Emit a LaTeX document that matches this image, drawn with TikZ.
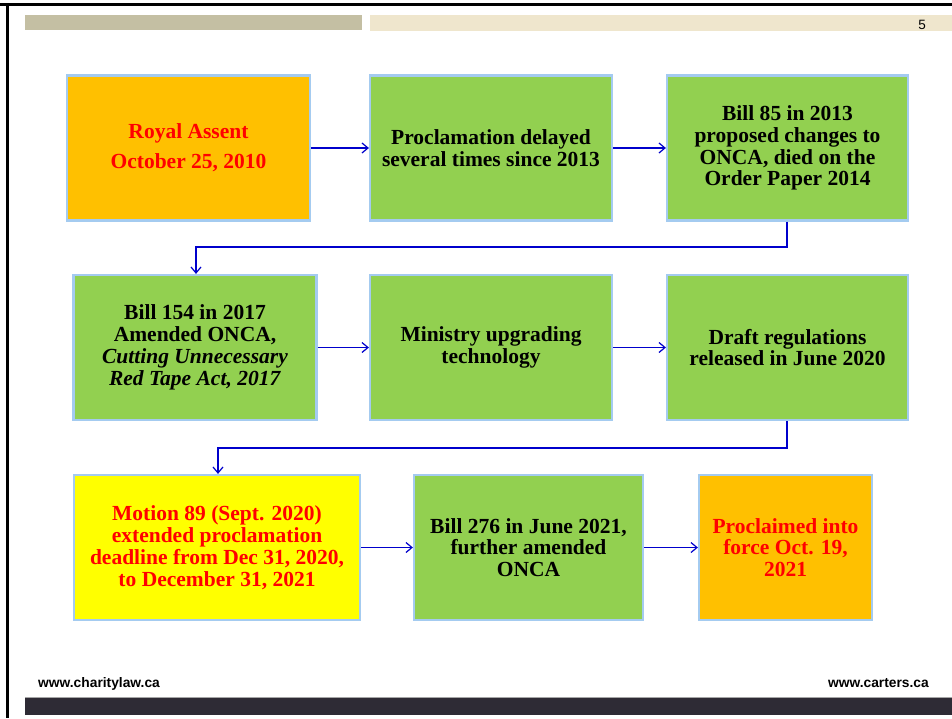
\documentclass[tikz,border=0pt]{standalone}
\usepackage{fontspec}
\setmainfont{Liberation Serif}
\newfontfamily\arialfont{Liberation Sans}
\usetikzlibrary{arrows.meta}
\definecolor{boxorange}{HTML}{FFC000}
\definecolor{boxgreen}{HTML}{92D050}
\definecolor{boxyellow}{HTML}{FFFF00}
\definecolor{boxborder}{HTML}{A4CBF0}
\definecolor{connblue}{HTML}{0000CC}
\definecolor{bargray}{HTML}{C4BFA3}
\definecolor{barbeige}{HTML}{EFE6CD}
\definecolor{footdark}{HTML}{2E2B35}
\begin{document}
\begin{tikzpicture}[x=1pt,y=-1pt,
  stepbox/.style={draw=boxborder, line width=2.2pt, minimum height=145pt, inner sep=0pt, align=center,
    font=\fontsize{21.5}{21.8}\selectfont\bfseries},
  conn/.style={draw=connblue, line width=1.2pt, -{Straight Barb[length=6pt,width=10pt,line width=1.2pt]}},
  foot/.style={font=\arialfont\bfseries\fontsize{13.8}{15}\selectfont, inner sep=0pt}
]
\useasboundingbox (0,0) rectangle (952,718);
\fill[white] (0,0) rectangle (952,718);
% frame
\fill[black] (0,3) rectangle (952,6);
\fill[black] (6,3) rectangle (9,718);
% top bars
\fill[bargray] (25,14.5) rectangle (362,30);
\fill[barbeige] (370,14.5) rectangle (952,31);
\node[font=\arialfont\fontsize{13.5}{15}\selectfont, inner sep=0pt] (pagenum) at (922,24.5) {5};
% footer
\fill[footdark] (25,698) rectangle (952,715);
\draw[gray!70, line width=0.8pt] (25,697.5) -- (952,697.5);
\node[foot, anchor=base west] (footl) at (38,687.5) {www.charitylaw.ca};
\node[foot, anchor=base east] (footr) at (929,687.5) {www.carters.ca};
% row 1
\node[stepbox, fill=boxorange, minimum width=243pt, text=red] (A) at (188.5,148) {Royal Assent\\[8pt]October 25, 2010};
\node[stepbox, fill=boxgreen, minimum width=242pt] (B) at (491,148) {Proclamation delayed\\several times since 2013};
\node[stepbox, fill=boxgreen, minimum width=241pt] (C) at (787.5,148) {Bill 85 in 2013\\proposed changes to\\ONCA, died on the\\Order Paper 2014};
% row 2
\node[stepbox, fill=boxgreen, minimum width=243pt] (D) at (195,347.5) {Bill 154 in 2017\\Amended ONCA,\\\textit{Cutting Unnecessary}\\\textit{Red Tape Act, 2017}};
\node[stepbox, fill=boxgreen, minimum width=242pt] (E) at (491,347.5) {Ministry upgrading\\technology};
\node[stepbox, fill=boxgreen, minimum width=241pt] (F) at (787.5,347.5) {Draft regulations\\released in June 2020};
% row 3
\node[stepbox, fill=boxyellow, minimum width=286pt, text=red] (G) at (217,547.5) {Motion 89 (Sept. 2020)\\extended proclamation\\deadline from Dec 31, 2020,\\to December 31, 2021};
\node[stepbox, fill=boxgreen, minimum width=229pt] (H) at (528.5,547.5) {Bill 276 in June 2021,\\further amended\\ONCA};
\node[stepbox, fill=boxorange, minimum width=173pt, text=red] (I) at (785.5,547.5) {Proclaimed into\\force Oct. 19,\\2021};
% connectors
\draw[conn] (A) -- (B);
\draw[conn] (B) -- (C);
\coordinate (c1) at (787,247);
\coordinate (c2) at (196,247);
\draw[conn] (C.south -| c1) -- (c1) -- (c2) -- (c2 |- D.north);
\draw[conn] (D) -- (E);
\draw[conn] (E) -- (F);
\coordinate (c3) at (787,448);
\coordinate (c4) at (218,448);
\draw[conn] (F.south -| c3) -- (c3) -- (c4) -- (c4 |- G.north);
\draw[conn] (G) -- (H);
\draw[conn] (H) -- (I);
\end{tikzpicture}
\end{document}
